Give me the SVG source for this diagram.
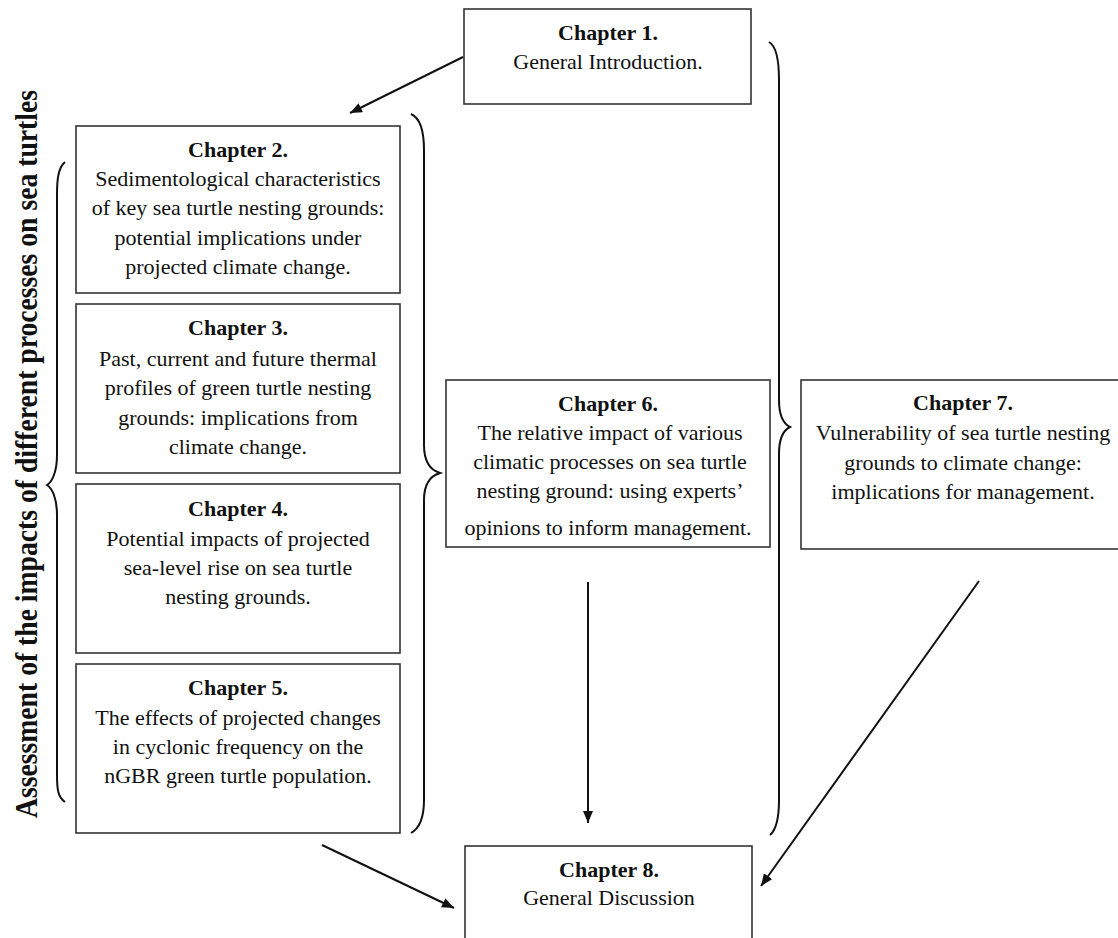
<svg xmlns="http://www.w3.org/2000/svg" width="1118" height="938" viewBox="0 0 1118 938">
<style>
.box{fill:#fff;stroke:#333;stroke-width:1.6}
.t{font-family:'Liberation Serif','Times New Roman',Times,serif;font-size:22px;font-weight:normal;fill:#111;text-anchor:middle}
.h{font-weight:bold}
.br{fill:none;stroke:#111;stroke-width:2}
.ar{fill:none;stroke:#111;stroke-width:2}
</style>
<defs>
<marker id="ah" markerUnits="userSpaceOnUse" markerWidth="14" markerHeight="12" refX="12" refY="5" orient="auto">
<path d="M0,0 L12,5 L0,10 Z" fill="#111"/>
</marker>
</defs>
<rect width="1118" height="938" fill="#fff"/>
<g id="label">
<text class="t h" transform="translate(37,454) rotate(-90)" textLength="728" lengthAdjust="spacingAndGlyphs" style="font-size:31px">Assessment of the impacts of different processes on sea turtles</text>
</g>
<g id="ch1">
<rect class="box" x="464" y="9" width="287" height="95"/>
<text class="t h" x="608" y="40">Chapter 1.</text>
<text class="t" x="608" y="69">General Introduction.</text>
</g>
<g id="ch2">
<rect class="box" x="76" y="126" width="324" height="167"/>
<text class="t h" x="238" y="157">Chapter 2.</text>
<text class="t" x="238" y="186">Sedimentological characteristics</text>
<text class="t" x="238" y="215">of key sea turtle nesting grounds:</text>
<text class="t" x="238" y="245">potential implications under</text>
<text class="t" x="238" y="274">projected climate change.</text>
</g>
<g id="ch3">
<rect class="box" x="76" y="304" width="324" height="169"/>
<text class="t h" x="238" y="335">Chapter 3.</text>
<text class="t" x="238" y="366">Past, current and future thermal</text>
<text class="t" x="238" y="395">profiles of green turtle nesting</text>
<text class="t" x="238" y="425">grounds: implications from</text>
<text class="t" x="238" y="454">climate change.</text>
</g>
<g id="ch4">
<rect class="box" x="76" y="484" width="324" height="169"/>
<text class="t h" x="238" y="516">Chapter 4.</text>
<text class="t" x="238" y="546">Potential impacts of projected</text>
<text class="t" x="238" y="575">sea-level rise on sea turtle</text>
<text class="t" x="238" y="604">nesting grounds.</text>
</g>
<g id="ch5">
<rect class="box" x="76" y="664" width="324" height="169"/>
<text class="t h" x="238" y="695">Chapter 5.</text>
<text class="t" x="238" y="725">The effects of projected changes</text>
<text class="t" x="238" y="754">in cyclonic frequency on the</text>
<text class="t" x="238" y="783">nGBR green turtle population.</text>
</g>
<g id="ch6">
<rect class="box" x="446" y="380" width="324" height="167"/>
<text class="t h" x="608" y="411">Chapter 6.</text>
<text class="t" x="610" y="440">The relative impact of various</text>
<text class="t" x="610" y="469">climatic processes on sea turtle</text>
<text class="t" x="610" y="498">nesting ground: using experts’</text>
<text class="t" x="608" y="535">opinions to inform management.</text>
</g>
<g id="ch7">
<rect class="box" x="801" y="380" width="324" height="169"/>
<text class="t h" x="963" y="410">Chapter 7.</text>
<text class="t" x="963" y="440">Vulnerability of sea turtle nesting</text>
<text class="t" x="963" y="470">grounds to climate change:</text>
<text class="t" x="963" y="499">implications for management.</text>
</g>
<g id="ch8">
<rect class="box" x="465" y="846" width="287" height="110"/>
<text class="t h" x="609" y="877">Chapter 8.</text>
<text class="t" x="609" y="905">General Discussion</text>
</g>
<g id="connectors">
<path class="br" d="M65,162 C58,168 57,180 57,195 L57,455 C57,472 52,482 47,485 C52,488 57,498 57,515 L57,775 C57,790 58,797 65,802"/>
<path class="br" d="M411,114 C420,118 424,130 424,150 L424,445 C424,462 430,470 440,473 C430,476 424,484 424,500 L424,800 C424,818 420,828 411,833"/>
<path class="br" d="M769,42 C776,46 779,58 779,80 L779,400 C779,418 784,424 790,427 C784,430 779,436 779,454 L779,800 C779,820 776,830 770,835"/>
<line class="ar" x1="463" y1="57" x2="350" y2="113" marker-end="url(#ah)"/>
<line class="ar" x1="588" y1="582" x2="588" y2="823" marker-end="url(#ah)"/>
<line class="ar" x1="322" y1="845" x2="454" y2="908" marker-end="url(#ah)"/>
<line class="ar" x1="979" y1="581" x2="761" y2="886" marker-end="url(#ah)"/>
</g>
</svg>
